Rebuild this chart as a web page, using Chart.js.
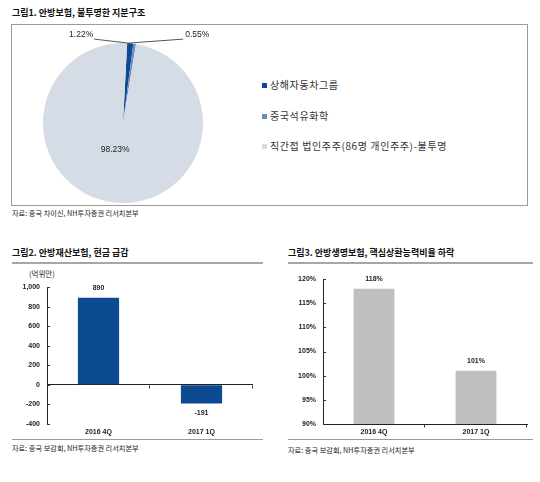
<!DOCTYPE html>
<html>
<head>
<meta charset="utf-8">
<script src="https://cdn.jsdelivr.net/npm/chart.js@4/dist/chart.umd.min.js"></script>
<style>
  body { margin: 0; background: #fff; font-family: "Noto Sans CJK KR", sans-serif; }
  #page { position: relative; width: 540px; height: 482px; overflow: hidden; }
  .abs { position: absolute; }
  .title { font-weight: bold; font-size: 9px; color: #111; white-space: nowrap; line-height: 1; }
  .src { font-size: 7.2px; color: #222; white-space: nowrap; line-height: 1; }
  .rule { background: #a6a6a6; height: 2px; }
  .thin { background: #9a9a9a; height: 1px; }
  .leg { font-size: 10px; color: #333; white-space: nowrap; line-height: 1; letter-spacing: 0.6px; }
  .leg i { display: inline-block; width: 5px; height: 5px; margin-right: 3px; vertical-align: 1px; }
</style>
</head>
<body>
<div id="page">
  <div class="abs title" style="left:12px;top:8px;">그림1. 안방보험, 불투명한 지분구조</div>
  <div class="abs" style="left:11px;top:24px;width:515px;height:180px;border:1px solid #9a9a9a;"></div>
  <div class="abs" style="left:12px;top:25px;width:228px;height:180px;"><canvas id="pie"></canvas></div>
  <div id="legend"></div>
  <div class="abs src" style="left:12px;top:210px;">자료: 중국 차이신, NH투자증권 리서치본부</div>

  <div class="abs title" style="left:12px;top:248px;">그림2. 안방재산보험, 현금 급감</div>
  <div class="abs rule" style="left:12px;top:262px;width:251px;"></div>
  <div class="abs src" style="left:29px;top:270px;font-size:7.5px;">(억위안)</div>
  <div class="abs" style="left:0px;top:266px;width:265px;height:172px;"><canvas id="cash"></canvas></div>
  <div class="abs thin" style="left:12px;top:439px;width:251px;"></div>
  <div class="abs src" style="left:12px;top:445px;">자료: 중국 보감회, NH투자증권 리서치본부</div>

  <div class="abs title" style="left:288px;top:248px;">그림3. 안방생명보험, 핵심상환능력비율 하락</div>
  <div class="abs rule" style="left:288px;top:262px;width:245px;"></div>
  <div class="abs" style="left:270px;top:266px;width:270px;height:172px;"><canvas id="ratio"></canvas></div>
  <div class="abs thin" style="left:288px;top:439px;width:245px;"></div>
  <div class="abs src" style="left:288px;top:447px;">자료: 중국 보감회, NH투자증권 리서치본부</div>
</div>
<script>
// 그림1 지분구조
const shareHolders = ['상해자동차그룹', '중국석유화학', '직간접 법인주주(86명 개인주주)-불투명'];
const shareValues = [1.22, 0.55, 98.23];
const shareColors = ['#0c4a92', '#6f8cc0', '#d5dce5'];

// 그림2 현금 (억위안)
const cashQuarters = ['2016 4Q', '2017 1Q'];
const cashValues = [890, -191];
const cashTicks = [-400, -200, 0, 200, 400, 600, 800, 1000];

// 그림3 핵심상환능력비율 (%)
const ratioQuarters = ['2016 4Q', '2017 1Q'];
const ratioValues = [118, 101];
const ratioTicks = [90, 95, 100, 105, 110, 115, 120];

const numFont = 'Liberation Sans, Arial, sans-serif';
Chart.defaults.font.family = numFont;
Chart.defaults.color = '#222';

// legend (html)
const legendEl = document.getElementById('legend');
const legTops = [80, 111, 141];
shareHolders.forEach((name, i) => {
  const d = document.createElement('div');
  d.className = 'abs leg';
  d.style.left = '262px';
  d.style.top = legTops[i] + 'px';
  d.innerHTML = '<i style="background:' + shareColors[i] + '"></i>' + name;
  legendEl.appendChild(d);
});

const pieLabels = {
  id: 'pieLabels',
  afterDatasetsDraw(chart) {
    const ctx = chart.ctx;
    const arcs = chart.getDatasetMeta(0).data;
    ctx.save();
    ctx.font = '8.5px ' + numFont;
    ctx.fillStyle = '#222';
    ctx.textBaseline = 'middle';
    // small slices: leader lines from top edge
    const a0 = arcs[0];
    const ang = a0.startAngle;
    const tipX = a0.x + Math.cos(ang) * a0.outerRadius + 1;
    const tipY = a0.y + Math.sin(ang) * a0.outerRadius;
    ctx.strokeStyle = '#555';
    ctx.lineWidth = 1;
    ctx.beginPath();
    ctx.moveTo(tipX - 34, tipY - 4);
    ctx.lineTo(tipX, tipY);
    ctx.lineTo(tipX + 55, tipY - 4);
    ctx.stroke();
    ctx.textAlign = 'right';
    ctx.fillText(shareValues[0].toFixed(2) + '%', tipX - 35, tipY - 8);
    ctx.textAlign = 'left';
    ctx.fillText(shareValues[1].toFixed(2) + '%', tipX + 57, tipY - 8);
    // big slice
    const big = arcs[2];
    const mid = (big.startAngle + big.endAngle) / 2;
    ctx.textAlign = 'center';
    ctx.fillText(shareValues[2].toFixed(2) + '%',
      big.x + Math.cos(mid) * big.outerRadius * 0.33 - 5,
      big.y + Math.sin(mid) * big.outerRadius * 0.33);
    ctx.restore();
  }
};

new Chart(document.getElementById('pie'), {
  type: 'pie',
  data: {
    labels: shareHolders,
    datasets: [{ data: shareValues, backgroundColor: shareColors, borderWidth: 0 }]
  },
  options: {
    responsive: true,
    maintainAspectRatio: false,
    animation: false,
    rotation: 3,
    layout: { padding: { left: 31, right: 37, top: 18, bottom: 2 } },
    plugins: { legend: { display: false }, tooltip: { enabled: false } }
  },
  plugins: [pieLabels]
});

// short ticks drawn inward, and value labels
const innerTicks = {
  id: 'innerTicks',
  afterDraw(chart, args, opts) {
    const ctx = chart.ctx;
    const y = chart.scales.y, x = chart.scales.x;
    const area = chart.chartArea;
    ctx.save();
    ctx.strokeStyle = '#333';
    ctx.lineWidth = 1;
    ctx.beginPath();
    y.ticks.forEach(t => {
      const py = Math.round(y.getPixelForValue(t.value)) + 0.5;
      ctx.moveTo(area.left, py);
      ctx.lineTo(area.left + 3, py);
    });
    const baseY = Math.round(y.getPixelForValue(opts.base)) + 0.5;
    const step = (area.right - area.left) / x.ticks.length;
    for (let i = 1; i <= x.ticks.length; i++) {
      const px = Math.round(area.left + step * i) - 0.5;
      ctx.moveTo(px, baseY);
      ctx.lineTo(px, baseY + 3);
    }
    ctx.stroke();
    // value labels
    ctx.font = 'bold 7px ' + numFont;
    ctx.fillStyle = '#222';
    ctx.textAlign = 'center';
    const meta = chart.getDatasetMeta(0);
    meta.data.forEach((bar, i) => {
      const v = chart.data.datasets[0].data[i];
      const txt = opts.fmt(v);
      if (v >= opts.base) {
        ctx.textBaseline = 'bottom';
        ctx.fillText(txt, bar.x, bar.y - 6);
      } else {
        ctx.textBaseline = 'top';
        ctx.fillText(txt, bar.x, bar.y + 6);
      }
    });
    ctx.restore();
  }
};

function barOptions(min, max, step, tickFmt, yWidth, padRight, padTop, base, valFmt, zeroLine) {
  return {
    responsive: true,
    maintainAspectRatio: false,
    animation: false,
    layout: { padding: { left: 0, right: padRight, top: padTop, bottom: 0 } },
    plugins: {
      legend: { display: false },
      tooltip: { enabled: false },
      innerTicks: { base: base, fmt: valFmt }
    },
    scales: {
      x: {
        grid: { display: false, drawTicks: false, tickLength: 0 },
        border: { display: !zeroLine, color: '#222', width: 1 },
        ticks: { font: { size: 7, weight: 'bold' }, color: '#222', padding: 4 },
        afterFit: s => { s.height = 14; }
      },
      y: {
        min: min,
        max: max,
        grid: {
          drawTicks: false,
          color: c => (zeroLine && c.tick && c.tick.value === 0) ? '#222' : 'rgba(0,0,0,0)'
        },
        border: { display: true, color: '#222', width: 1 },
        ticks: { stepSize: step, font: { size: 7, weight: 'bold' }, color: '#222', padding: 7, callback: tickFmt },
        afterFit: s => { s.width = yWidth; }
      }
    }
  };
}

new Chart(document.getElementById('cash'), {
  type: 'bar',
  data: {
    labels: cashQuarters,
    datasets: [{ data: cashValues, backgroundColor: '#0c4a92', barPercentage: 0.4, categoryPercentage: 1 }]
  },
  options: barOptions(cashTicks[0], cashTicks[cashTicks.length - 1], 200,
    v => v.toLocaleString('en-US'), 47, 12, 21, 0, v => String(v), true),
  plugins: [innerTicks]
});

new Chart(document.getElementById('ratio'), {
  type: 'bar',
  data: {
    labels: ratioQuarters,
    datasets: [{ data: ratioValues, backgroundColor: '#bfbfbf', barPercentage: 0.4, categoryPercentage: 1 }]
  },
  options: barOptions(ratioTicks[0], ratioTicks[ratioTicks.length - 1], 5,
    v => v + '%', 53, 13, 13, 90, v => v + '%', false),
  plugins: [innerTicks]
});
</script>
</body>
</html>
